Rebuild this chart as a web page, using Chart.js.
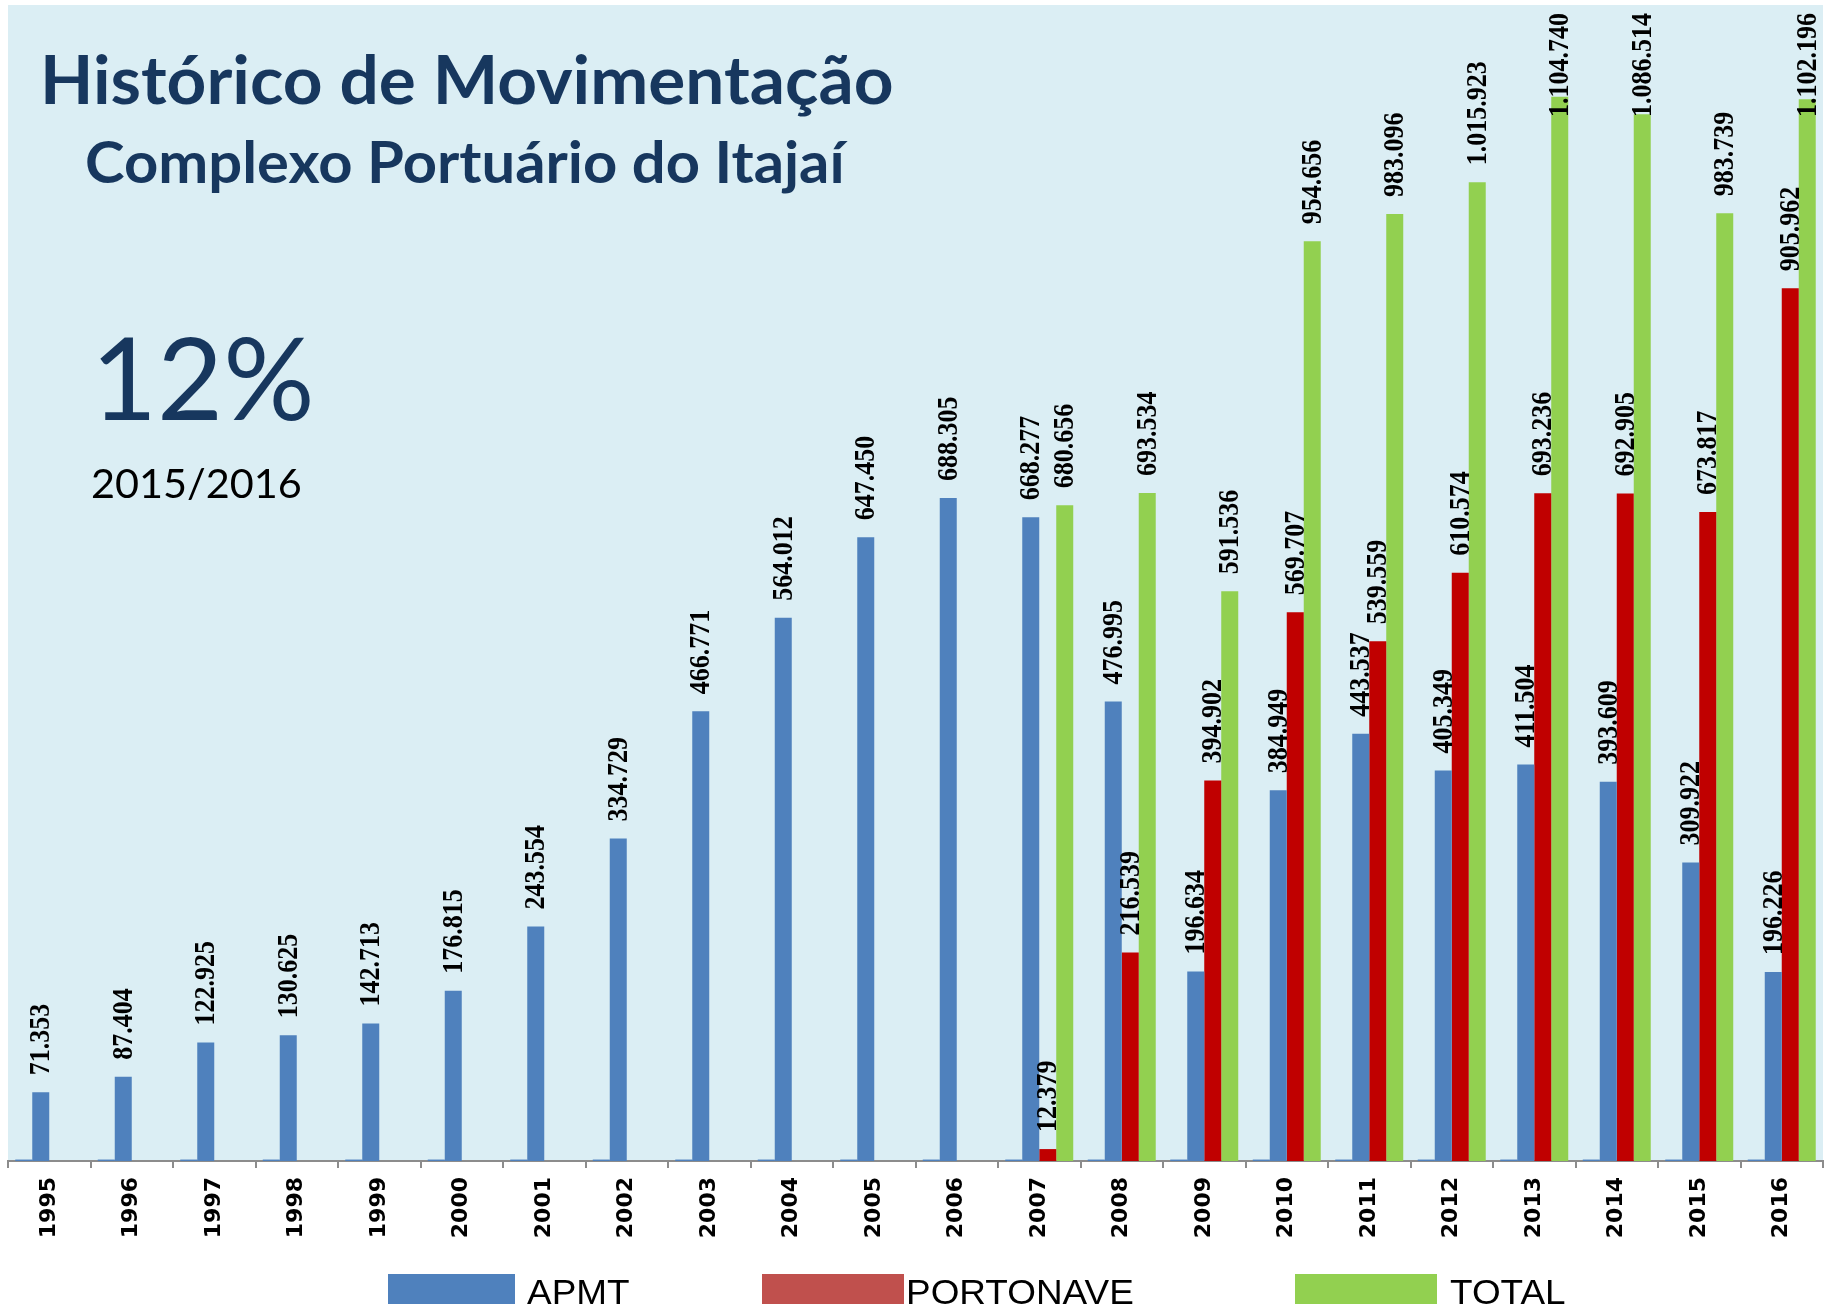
<!DOCTYPE html>
<html><head><meta charset="utf-8">
<script src="https://cdn.jsdelivr.net/npm/chart.js@4.4.1/dist/chart.umd.min.js"></script>
<style>
html,body{margin:0;padding:0;background:#fff;}
#wrap{position:relative;width:1831px;height:1310px;overflow:hidden;background:#fff;}
canvas{position:absolute;left:0;top:0;}
.t{position:absolute;white-space:nowrap;transform-origin:0 0;}
.box{position:absolute;}
.lg{font:400 35px/1 'Liberation Sans';color:#000;transform:scaleX(1.055);}
</style></head><body>
<div id="wrap">
<canvas id="c" width="1831" height="1310"></canvas>
<div class="t" id="title" style="left:40px;top:45.5px;font:700 66px/1 Lato;color:#17375E;transform:scaleX(1.051)">Histórico de Movimentação</div>
<div class="t" id="subtitle" style="left:85px;top:133.4px;font:700 57px/1 Lato;color:#17375E;transform:scaleX(1.048)">Complexo Portuário do Itajaí</div>
<div class="t" id="pct" style="left:91px;top:319px;font:400 114px/1 Lato;color:#17375E">12%</div>
<div class="t" id="period" style="left:91px;top:462.5px;font:400 40px/1 Lato;color:#000;transform:scaleX(1.035)">2015/2016</div>

<div class="box" style="left:388px;top:1274px;width:127px;height:30px;background:#4F81BD"></div>
<div class="t lg" style="left:527px;top:1274.4px;">APMT</div>
<div class="box" style="left:762px;top:1274px;width:142px;height:30px;background:#C0504D"></div>
<div class="t lg" style="left:906px;top:1274.4px;">PORTONAVE</div>
<div class="box" style="left:1295px;top:1274px;width:142px;height:30px;background:#92D050"></div>
<div class="t lg" style="left:1450px;top:1274.4px;">TOTAL</div>
</div>
<script>
const years = ['1995','1996','1997','1998','1999','2000','2001','2002','2003','2004','2005','2006','2007','2008','2009','2010','2011','2012','2013','2014','2015','2016'];
const outros = [1500,1500,1500,1500,1500,1500,1500,1500,1500,1500,1500,1500,1500,1500,1500,1500,1500,1500,1500,1500,1500,1500];
const apmt = [71353,87404,122925,130625,142713,176815,243554,334729,466771,564012,647450,688305,668277,476995,196634,384949,443537,405349,411504,393609,309922,196226];
const portonave = [null,null,null,null,null,null,null,null,null,null,null,null,12379,216539,394902,569707,539559,610574,693236,692905,673817,905962];
const total = [null,null,null,null,null,null,null,null,null,null,null,null,680656,693534,591536,954656,983096,1015923,1104740,1086514,983739,1102196];
const yMax = 1200000;

function fmt(v){ return String(v).replace(/\B(?=(\d{3})+(?!\d))/g, '.'); }

const bgPlugin = {
  id: 'plotBg',
  beforeDraw(chart){
    const {ctx, chartArea:a} = chart;
    ctx.save();
    ctx.fillStyle = '#DBEEF4';
    ctx.fillRect(a.left, a.top, a.right - a.left, a.bottom - a.top);
    ctx.restore();
  }
};
const labelPlugin = {
  id: 'valueLabels',
  afterDatasetsDraw(chart){
    const ctx = chart.ctx;
    ctx.save();
    ctx.font = 'bold 26px "Liberation Serif"';
    ctx.fillStyle = '#000';
    ctx.textAlign = 'left';
    ctx.textBaseline = 'middle';
    chart.data.datasets.forEach((ds, di) => {
      if (!ds.showLabels) return;
      const meta = chart.getDatasetMeta(di);
      meta.data.forEach((bar, i) => {
        const v = ds.data[i];
        if (v == null) return;
        const txt = fmt(v);
        const w = ctx.measureText(txt).width;
        let yb = bar.y - 17;
        if (yb - w < 13) yb = 13 + w;
        ctx.save();
        ctx.translate(bar.x + 1, yb);
        ctx.rotate(-Math.PI / 2);
        ctx.scale(1, 1.13);
        ctx.fillText(txt, 0, 0);
        ctx.restore();
      });
    });
    ctx.restore();
  }
};

function draw(){
  new Chart(document.getElementById('c'), {
    type: 'bar',
    data: {
      labels: years,
      datasets: [
        {label: 'OUTROS', data: outros, backgroundColor: '#4F81BD', showLabels: false},
        {label: 'APMT', data: apmt, backgroundColor: '#4F81BD', showLabels: true},
        {label: 'PORTONAVE', data: portonave, backgroundColor: '#C00000', showLabels: true},
        {label: 'TOTAL', data: total, backgroundColor: '#92D050', showLabels: true}
      ]
    },
    options: {
      responsive: false,
      animation: false,
      devicePixelRatio: 1,
      layout: {padding: {left: 8, right: 8, top: 5, bottom: 0}},
      datasets: {bar: {categoryPercentage: 0.824, barPercentage: 1.0, borderWidth: 0}},
      plugins: {legend: {display: false}, tooltip: {enabled: false}, title: {display: false}},
      scales: {
        x: {
          offset: true,
          grid: {offset: true, drawOnChartArea: false, drawTicks: true, tickLength: 7, color: '#8C8C8C', lineWidth: 2},
          border: {display: true, color: '#8C8C8C', width: 2},
          ticks: {autoSkip: false, maxRotation: 90, minRotation: 90, padding: 9, color: '#000',
                  font: {family: '"DejaVu Sans"', weight: 'bold', size: 22}},
          afterFit(scale){ scale.height = 149; }
        },
        y: {display: false, min: 0, max: yMax}
      }
    },
    plugins: [bgPlugin, labelPlugin]
  });
}
const fl = Promise.all([
  document.fonts.load('bold 26px "Liberation Serif"'),
  document.fonts.load('bold 22px "DejaVu Sans"'),
  document.fonts.load('700 66px Lato'),
  document.fonts.load('400 40px Lato'),
  document.fonts.load('35px "Liberation Sans"')
]).catch(()=>{});
Promise.race([fl, new Promise(r=>setTimeout(r,1500))]).then(draw);
</script>
</body></html>
